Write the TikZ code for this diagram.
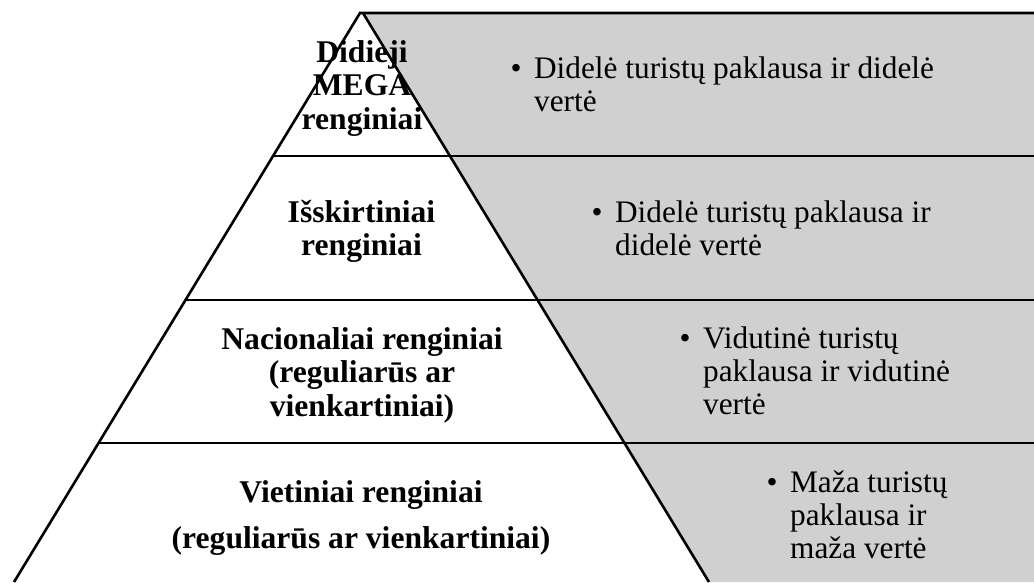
\documentclass[tikz,border=0pt]{standalone}
\usepackage{fontspec}
\setmainfont{Liberation Serif}
\definecolor{factgray}{RGB}{208,208,208}
\newcommand{\levelfont}{\fontsize{31.6}{33.5}\selectfont\bfseries}
\newcommand{\factfont}{\fontsize{31.3}{33}\selectfont}
\tikzset{
	levelname/.style={font=\levelfont, inner sep=0pt, anchor=base},
	factlist/.style={font=\factfont, inner sep=0pt, anchor=base west},
	edge/.style={line width=2.6pt},
}
\begin{document}
\begin{tikzpicture}[x=1pt,y=-1pt]
	\useasboundingbox (0,0) rectangle (1034,582);
	%%%%%%%%%%%%%%%%%%%
	%     pyramid     %
	%%%%%%%%%%%%%%%%%%%
		\def\topY{13}
		\def\botY{582}
		\def\slope{0.608}
		\coordinate (apexL) at (360,\topY);
		\coordinate (apexR) at (363,\topY);
		\coordinate (baseL) at ({360-\slope*(\botY-\topY)},\botY);
		\coordinate (baseR) at ({363+\slope*(\botY-\topY)},\botY);
		\coordinate (topEnd) at (1034,\topY);
		% gray side
			\fill [factgray] (apexR) -- (topEnd) -- (1034,\botY) -- (baseR) -- cycle;
		% outline
			\draw [edge] (baseL) -- (apexL) -- (topEnd);
			\draw [edge] (apexR) -- (baseR);
		% dividers
			\foreach \y in {156,300,443}
				\draw [edge] ({360-\slope*(\y-\topY)},\y) -- (1034,\y);
	%%%%%%%%%%%%%%%%%%%
	%     levels      %
	%%%%%%%%%%%%%%%%%%%
		\node [levelname] (mega) at (362,62) {\begin{tabular}[t]{@{}c@{}}Didieji\\MEGA\\renginiai\end{tabular}};
		\node [levelname] (isskirt) at (361.5,222) {\begin{tabular}[t]{@{}c@{}}Išskirtiniai\\renginiai\end{tabular}};
		\node [levelname] (nacion) at (362,349) {\begin{tabular}[t]{@{}c@{}}Nacionaliai renginiai\\(reguliarūs ar\\vienkartiniai)\end{tabular}};
		\node [levelname] (vietin) at (361,502) {\begin{tabular}[t]{@{}c@{}}Vietiniai renginiai\\[12.5pt](reguliarūs ar vienkartiniai)\end{tabular}};
	%%%%%%%%%%%%%%%%%%%
	%      facts      %
	%%%%%%%%%%%%%%%%%%%
		\node [factlist] (megaFact) at (510.5,78) {\begin{tabular}[t]{@{}l@{\hspace{12.5pt}}l@{}}\textbullet&Didelė turistų paklausa ir didelė\\&vertė\end{tabular}};
		\node [factlist] (isskirtFact) at (591.5,222) {\begin{tabular}[t]{@{}l@{\hspace{12.5pt}}l@{}}\textbullet&Didelė turistų paklausa ir\\&didelė vertė\end{tabular}};
		\node [factlist] (nacionFact) at (679.5,348) {\begin{tabular}[t]{@{}l@{\hspace{12.5pt}}l@{}}\textbullet&Vidutinė turistų\\&paklausa ir vidutinė\\&vertė\end{tabular}};
		\node [factlist] (vietinFact) at (766.5,492) {\begin{tabular}[t]{@{}l@{\hspace{12.5pt}}l@{}}\textbullet&Maža turistų\\&paklausa ir\\&maža vertė\end{tabular}};
\end{tikzpicture}
\end{document}
